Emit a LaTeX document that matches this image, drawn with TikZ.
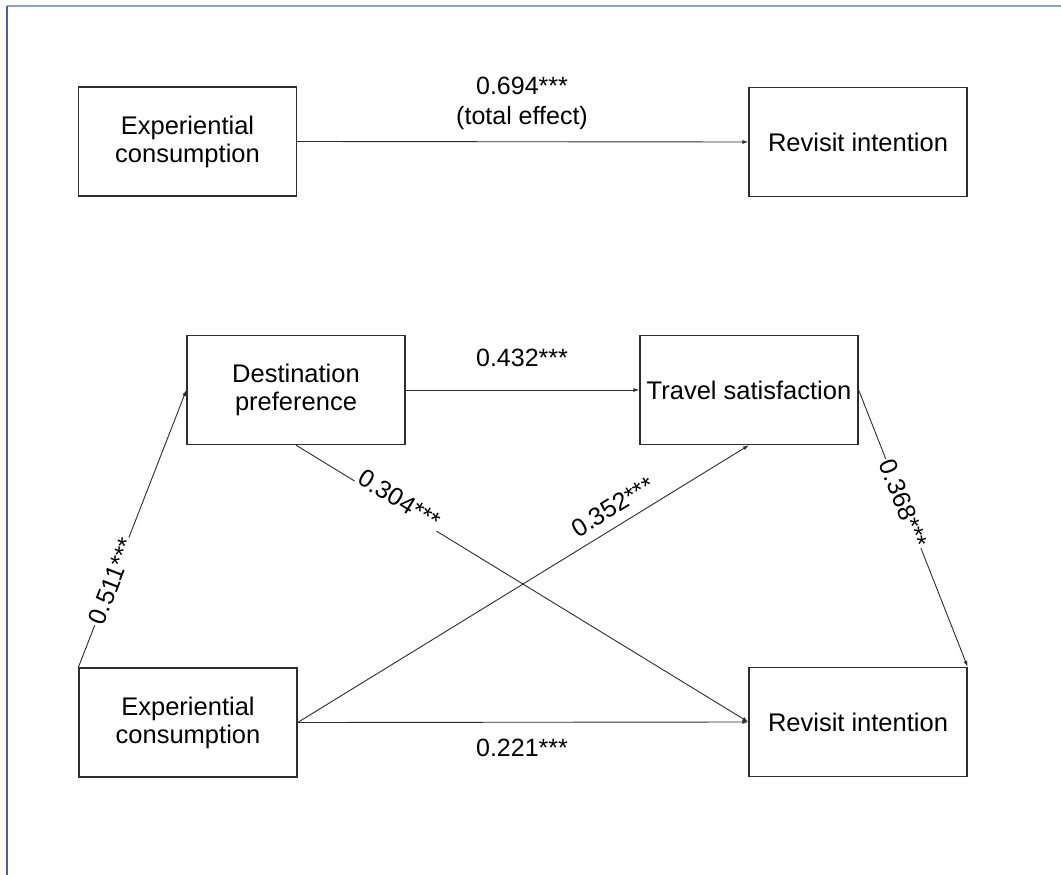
\documentclass[tikz,border=0pt]{standalone}
\usepackage{fontspec}
\setmainfont{Liberation Sans}
\usetikzlibrary{arrows.meta}
\definecolor{frametop}{RGB}{140,160,200}
\definecolor{frameleft}{RGB}{70,100,165}
\definecolor{ink}{RGB}{45,45,45}
\tikzset{
  box/.style={draw=ink, line width=1.3pt, minimum width=218pt, minimum height=109pt, align=center, inner sep=0pt, font=\fontsize{25.5}{28}\selectfont},
  conn/.style={draw=ink, line width=0.9pt, -{Latex[length=6pt,width=4pt]}},
  lab/.style={font=\fontsize{25}{30}\selectfont, align=center, inner sep=2pt},
  slab/.style={lab, sloped, fill=white}
}
\begin{document}
\begin{tikzpicture}[x=1pt,y=-1pt]
\useasboundingbox (0,0) rectangle (1061,875);
\fill[white] (0,0) rectangle (1061,875);
\draw[frametop, line width=2pt] (7,6.5) -- (1061,6.5);
\draw[frameleft, line width=2pt] (7,6) -- (7,875);

\node[box] (ec1) at (187.5,141.5) {Experiential\\consumption};
\node[box] (ri1) at (858,142) {Revisit intention};
\node[box] (dp) at (296,390) {Destination\\preference};
\node[box] (ts) at (749,390) {Travel satisfaction};
\node[box] (ec2) at (188,722.5) {Experiential\\consumption};
\node[box] (ri2) at (858,722) {Revisit intention};

\draw[conn] (ec1.east) -- (ri1.west);
\node[lab] (l694) at (522,103) {0.694***\\(total effect)};

\draw[conn] (dp.east) -- (ts.west);
\node[lab] (l432) at (522,358) {0.432***};

\draw[conn] (ec2.east) -- (ri2.west);
\node[lab] (l221) at (522,748) {0.221***};

\draw[conn] (ec2.north west) -- node[slab, pos=0.31] {0.511***} (dp.west);
\draw[conn] (ts.east) -- node[slab, pos=0.41] {0.368***} (ri2.north east);
\draw[conn] (dp.south) -- node[slab, pos=0.22, anchor=south, outer ysep=-3pt] {0.304***} (ri2.west);
\draw[conn] (ec2.east) -- node[slab, pos=0.72, anchor=south, outer ysep=8pt] {0.352***} (ts.south);
\end{tikzpicture}
\end{document}
